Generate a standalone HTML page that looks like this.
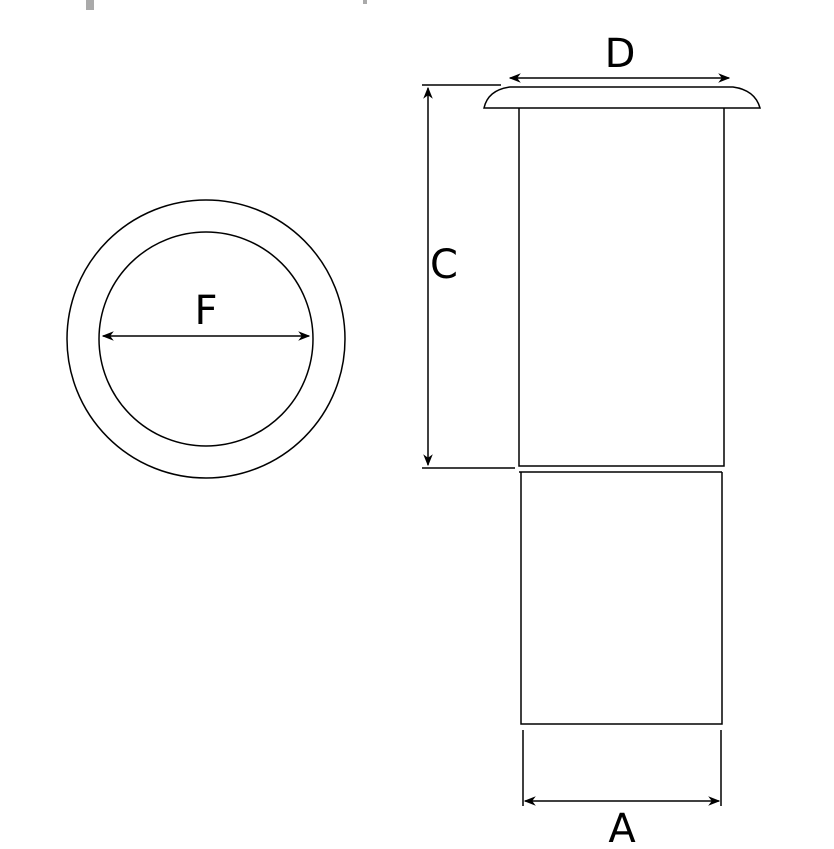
<!DOCTYPE html>
<html><head><style>body{margin:0;background:#fff}svg{display:block}</style></head><body>
<svg width="834" height="849" viewBox="0 0 834 849" xmlns="http://www.w3.org/2000/svg">
<defs><marker id="ar" viewBox="0 0 10 10" refX="9" refY="5" markerWidth="8" markerHeight="8" orient="auto-start-reverse"><path d="M0,1 L10,5 L0,9 L3,5z" fill="#000"/></marker></defs>
<rect x="86" y="0" width="8" height="10" fill="#aaa"/><rect x="363" y="0" width="4" height="4" fill="#aaa"/>
<g fill="none" stroke="#000" stroke-width="1.5">
<circle cx="206" cy="339" r="139"/>
<circle cx="206" cy="339" r="107"/>
<line x1="103" y1="336" x2="309" y2="336" marker-start="url(#ar)" marker-end="url(#ar)"/>
<path d="M484,108 Q488,90 510,87 L733,87 Q755,90 760,108 Z"/>
<path d="M519,108 L519,466 L724,466 L724,108"/>
<line x1="519" y1="472" x2="722" y2="472"/>
<path d="M521,472 L521,724 L722,724 L722,472"/>
<line x1="422" y1="85" x2="501" y2="85"/>
<line x1="422" y1="468" x2="515" y2="468"/>
<line x1="428" y1="88" x2="428" y2="465" marker-start="url(#ar)" marker-end="url(#ar)"/>
<line x1="510" y1="78" x2="729" y2="78" marker-start="url(#ar)" marker-end="url(#ar)"/>
<line x1="523" y1="730" x2="523" y2="806"/>
<line x1="721" y1="730" x2="721" y2="806"/>
<line x1="525" y1="801" x2="719" y2="801" marker-start="url(#ar)" marker-end="url(#ar)"/>
</g>
<g font-family="DejaVu Sans, Liberation Sans, sans-serif" font-size="40" text-anchor="middle" fill="#000">
<text x="620" y="67">D</text>
<text x="444" y="278">C</text>
<text x="206" y="324">F</text>
<text x="622" y="842">A</text>
</g>
</svg>
</body></html>
